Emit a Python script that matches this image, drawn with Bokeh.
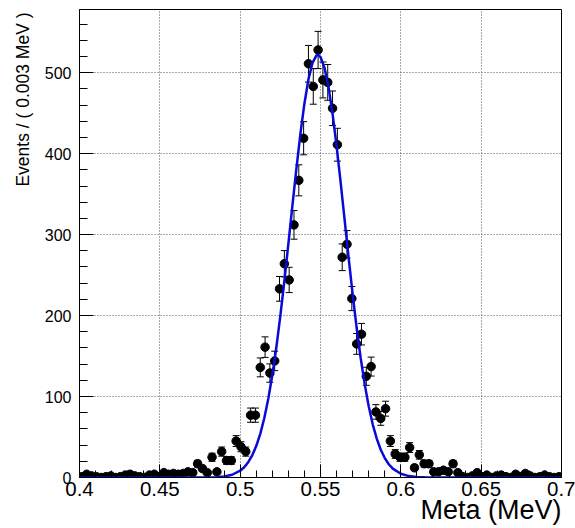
import numpy as np
from bokeh.plotting import figure
from bokeh.models import Range1d, FixedTicker, ColumnDataSource, Whisker, TeeHead, Title
from bokeh.embed import file_html
from bokeh.resources import INLINE

# ---- data ----
bin_lo = 0.4
bin_width = 0.003
counts = [1, 4, 2, 1, 0, 1, 2, 0, 1, 3,
          4, 2, 1, 0, 3, 4, 1, 6, 4, 5,
          4, 5, 7, 6, 17, 11, 6, 25, 7, 32,
          21, 21, 45, 38, 32, 77, 77, 136, 161, 129,
          144, 233, 264, 244, 312, 367, 419, 511, 483, 528,
          491, 488, 456, 411, 272, 288, 221, 165, 177, 125,
          137, 81, 73, 85, 45, 29, 25, 25, 37, 12,
          28, 17, 17, 7, 7, 9, 7, 17, 6, 1,
          0, 2, 6, 1, 3, 0, 2, 3, 1, 0,
          4, 1, 5, 2, 0, 1, 3, 1, 0, 1]

curve_x = [0.400, 0.460, 0.470, 0.475, 0.480, 0.485, 0.490, 0.495, 0.500, 0.5025,
           0.505, 0.5075, 0.510, 0.5125, 0.515, 0.5175, 0.520, 0.5225, 0.525, 0.5275,
           0.530, 0.5325, 0.535, 0.5375, 0.540, 0.5425, 0.545, 0.5475, 0.5483, 0.550,
           0.5525, 0.555, 0.5575, 0.560, 0.5625, 0.565, 0.5675, 0.570, 0.5725, 0.575,
           0.5775, 0.580, 0.5825, 0.585, 0.5875, 0.590, 0.5925, 0.595, 0.600, 0.605,
           0.610, 0.615, 0.620, 0.630, 0.700]
curve_y = [0, 0, 0.01, 0.04, 0.13, 0.43, 1.27, 3.4, 8.37, 12.7,
           18.85, 27.35, 38.8, 53.9, 73.2, 97.2, 126.3, 160.5, 199.5, 242.6,
           288.4, 335.4, 381.6, 424.5, 462.0, 491.8, 512.0, 521.4, 522.0, 519.3,
           505.9, 482.1, 449.3, 409.6, 365.2, 318.5, 271.6, 226.6, 184.9, 147.6,
           115.3, 88.0, 65.7, 48.0, 34.3, 24.0, 16.4, 11.0, 4.6, 1.75,
           0.61, 0.2, 0.06, 0, 0]

x_ticks = [0.4, 0.45, 0.5, 0.55, 0.6, 0.65, 0.7]
x_tick_labels = ["0.4", "0.45", "0.5", "0.55", "0.6", "0.65", "0.7"]
y_ticks = [0, 100, 200, 300, 400, 500]

x_title = "Meta (MeV)"
y_title = "Events / ( 0.003 MeV )"

# ---- derived ----
n = np.array(counts, dtype=float)
xc = bin_lo + bin_width * (np.arange(len(counts)) + 0.5)
err = np.sqrt(n)
src = ColumnDataSource(dict(x=xc, y=n, lower=n - err, upper=n + err))

FONT = "Liberation Sans"

p = figure(width=575, height=528,
           x_range=Range1d(0.4, 0.7), y_range=Range1d(0, 578),
           output_backend="svg", toolbar_location=None,
           min_border_left=79, min_border_right=14,
           min_border_top=9, min_border_bottom=51)
p.background_fill_color = "white"
p.border_fill_color = "white"
p.outline_line_color = "black"
p.outline_line_width = 1

# axes
p.xaxis.ticker = FixedTicker(ticks=x_ticks,
                             minor_ticks=[round(0.4 + 0.01 * i, 2) for i in range(31)])
p.xaxis.major_label_overrides = dict(zip(x_ticks, x_tick_labels))
p.yaxis.ticker = FixedTicker(ticks=y_ticks, minor_ticks=list(range(0, 580, 20)))

for ax in (p.xaxis, p.yaxis):
    ax.axis_line_color = "black"
    ax.major_tick_line_color = "black"
    ax.minor_tick_line_color = "black"
    ax.major_tick_out = 0
    ax.minor_tick_out = 0
    ax.major_label_text_font = FONT
    ax.major_label_text_color = "black"

p.xaxis.major_tick_in = 13
p.xaxis.minor_tick_in = 7
p.xaxis.major_label_text_font_size = "20.5px"
p.xaxis.major_label_standoff = 4

p.yaxis.major_tick_in = 14
p.yaxis.minor_tick_in = 8
p.yaxis.major_label_text_font_size = "16px"
p.yaxis.major_label_standoff = 8

# grid
for g in (p.xgrid, p.ygrid):
    g.grid_line_color = "#555555"
    g.grid_line_dash = "1 2"
    g.grid_line_width = 1

# error bars + points
p.add_layout(Whisker(source=src, base="x", upper="upper", lower="lower",
                     line_color="black", line_width=1,
                     upper_head=TeeHead(size=7, line_color="black", line_width=1),
                     lower_head=TeeHead(size=7, line_color="black", line_width=1)))
p.scatter(x="x", y="y", source=src, size=8.5, color="black")

# fit curve
p.line(curve_x, curve_y, line_color="#0a0ad8", line_width=2.5)

# axis titles (right / top aligned, as in ROOT)
p.add_layout(Title(text=x_title, align="right", vertical_align="middle",
                   offset=0, standoff=-10,
                   text_font=FONT, text_font_size="27px", text_font_style="normal",
                   text_color="black"), "below")
p.add_layout(Title(text=y_title, align="right", vertical_align="bottom",
                   offset=3, standoff=18,
                   text_font=FONT, text_font_size="17.5px", text_font_style="normal",
                   text_color="black"), "left")

open("out.html", "w").write(file_html(p, INLINE))
